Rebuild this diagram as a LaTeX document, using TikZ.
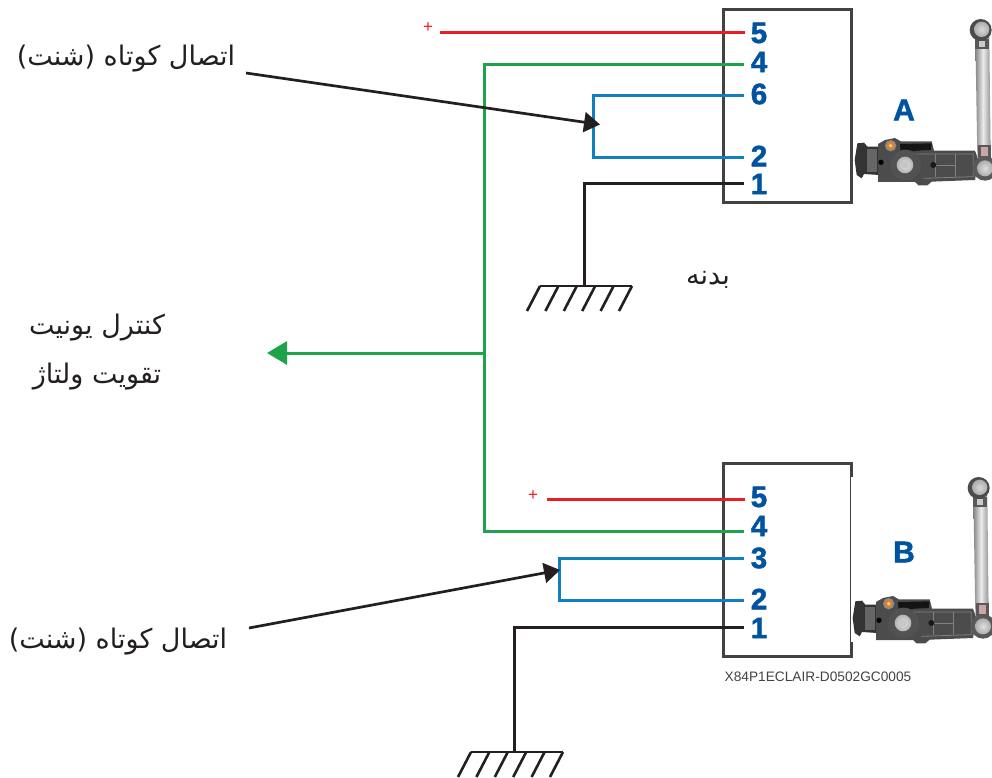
\documentclass[tikz,border=0pt]{standalone}
\usepackage{fontspec}
\setmainfont{Liberation Sans}
\newfontfamily\arabicfont[Script=Arabic]{DejaVu Sans}
\newfontfamily\numfont[FakeBold=1.6]{Liberation Sans Bold}
\TeXXeTstate=1
\usetikzlibrary{arrows.meta}
\definecolor{wred}{HTML}{ED1C24}
\definecolor{wgreen}{HTML}{1FA34A}
\definecolor{wblue}{HTML}{0F7FC1}
\definecolor{wblack}{HTML}{231F20}
\definecolor{numblue}{HTML}{00549F}
\tikzset{
  boxline/.style={draw=wblack!85,line width=3pt},
  wire/.style={line width=3pt,line cap=butt,line join=miter},
  redw/.style={wire,draw=wred},
  greenw/.style={wire,draw=wgreen},
  bluew/.style={wire,draw=wblue},
  blackw/.style={wire,draw=wblack},
  hatchline/.style={draw=wblack,line width=2.6pt},
  pinnum/.style={inner sep=0pt,text=numblue,font=\numfont\fontsize{29.5}{29.5}\selectfont},
  letter/.style={inner sep=0pt,text=numblue,font=\numfont\fontsize{30}{30}\selectfont},
  plus/.style={inner sep=0pt,text=wred,font=\fontsize{17}{17}\selectfont},
  farsi/.style={inner sep=0pt,text=wblack,font=\arabicfont\fontsize{27}{27}\selectfont},
  code/.style={inner sep=0pt,text=wblack!85,font=\fontsize{13.7}{15}\selectfont},
  callout/.style={draw=wblack,line width=2.7pt,-{Triangle[length=16pt,width=20pt]}},
  bigarrow/.style={wire,draw=wgreen,-{Triangle[length=20pt,width=23pt]}},
}
\newcommand{\sensorshape}{%
  % rod
  \shade[left color=gray!95,right color=gray!85,middle color=gray!15]
     (406,110) -- (448,110) -- (452,470) -- (412,470) -- cycle;
  \fill[gray!70!black] (406,118) rectangle (446,146);
  \fill[gray!40] (416,122) rectangle (436,142);
  \fill[gray!70!black] (414,435) rectangle (452,475);
  \fill[gray!40!pink] (424,442) rectangle (444,468);
  % top ball
  \fill[black!70] (422,90) circle (33);
  \shade[inner color=gray!30,outer color=gray!65] (425,88) circle (23);
  % connector
  \fill[black!80] (52,430) -- (72,428) -- (82,440) -- (118,440) -- (118,525) -- (72,522) -- (65,535) -- (50,525) -- (44,480) -- cycle;
  \fill[black!60] (82,448) rectangle (112,515);
  % body
  \fill[black!70] (114,432) -- (135,420) -- (165,414) -- (182,424) -- (275,424) -- (282,452) -- (405,452) -- (415,480) -- (405,540) -- (275,545) -- (262,556) -- (235,556) -- (225,546) -- (114,546) -- cycle;
  \fill[black!92] (180,432) -- (275,430) -- (272,450) -- (230,452) -- (182,462) -- cycle;
  \draw[black!50,line width=.8pt] (225,462) -- (400,462) -- (400,530) -- (250,535);
  \draw[black!50,line width=.8pt] (285,462) -- (285,530) (345,462) -- (345,530) (285,495) -- (345,495);
  % holes
  \fill[black] (123,487) circle (8);
  \fill[black!90] (280,495) circle (9);
  % orange screw
  \fill[black!45] (152,437) circle (17);
  \fill[orange!80!brown] (152,437) circle (11);
  \fill[orange!30] (152,437) circle (5);
  % pivot
  \fill[black!68] (197,495) circle (46);
  \shade[inner color=gray!20,outer color=gray!60] (195,495) circle (25);
  \fill[gray!45] (195,495) circle (11);
  % bottom ball
  \fill[black!65] (435,505) circle (37);
  \shade[inner color=gray!25,outer color=gray!65] (435,505) circle (24);
}
\begin{document}
\begin{tikzpicture}[x=1pt,y=-1pt]
\useasboundingbox (0,0) rectangle (992,778);
\begin{scope}
\clip (0,0) rectangle (992,778);

% sensor images
\begin{scope}[shift={(840,0)},x=1/3*1pt,y=-1/3*1pt]
  \sensorshape
\end{scope}
\begin{scope}[shift={(838,458)},x=1/3*1pt,y=-1/3*1pt]
  \sensorshape
\end{scope}

% boxes
\draw[boxline] (723,10) rectangle (851,202);
\draw[boxline] (851,477) -- (851,463) -- (723,463) -- (723,656) -- (851,656) -- (851,642);
\draw[draw=wblack!85,line width=1.6pt] (850.5,477) -- (850.5,642);

% wire end points, top unit
\coordinate (ra0) at (440,33);   \coordinate (ra1) at (745,33);
\coordinate (ga1) at (744,65);   \coordinate (ga2) at (484,65);
\coordinate (ba1) at (744,96);   \coordinate (ba2) at (593,96);
\coordinate (ba3) at (593,158);  \coordinate (ba4) at (744,158);
\coordinate (ka1) at (744,183);  \coordinate (ka2) at (584,183);
\coordinate (gnda) at (584,286);
% wire end points, bottom unit
\coordinate (rb0) at (547,499);  \coordinate (rb1) at (745,499);
\coordinate (gb1) at (744,531);  \coordinate (gb2) at (484,531);
\coordinate (bb1) at (744,558);  \coordinate (bb2) at (559,558);
\coordinate (bb3) at (559,600);  \coordinate (bb4) at (744,600);
\coordinate (kb1) at (744,627);  \coordinate (kb2) at (514,627);
\coordinate (gndb) at (514,752);
% branch and callouts
\coordinate (branch) at (484,353);
\coordinate (tipg) at (267,353);
\coordinate (calla0) at (246,73);  \coordinate (calla1) at (600,124.5);
\coordinate (callb0) at (249,628); \coordinate (callb1) at (560,570);

% wires
\draw[redw] (ra0) -- (ra1);
\draw[greenw] (ga1) -- (ga2) -- (gb2) -- (gb1);
\draw[bluew] (ba1) -- (ba2) -- (ba3) -- (ba4);
\draw[blackw] (ka1) -- (ka2) -- (gnda);
\draw[redw] (rb0) -- (rb1);
\draw[bluew] (bb1) -- (bb2) -- (bb3) -- (bb4);
\draw[blackw] (kb1) -- (kb2) -- (gndb);
\draw[bigarrow] (branch) -- (tipg);

% callout arrows
\draw[callout] (calla0) -- (calla1);
\draw[callout] (callb0) -- (callb1);

% grounds
\foreach \gx/\gy in {540/286,471/752}{
  \draw[hatchline] (\gx,\gy) -- ++(92,0);
  \foreach \k in {0,...,5}{
    \draw[hatchline] (\gx+\k*18.4,\gy) -- ++(-13,25);
  }
}

% pin numbers
\node[pinnum] (a5) at (759,33) {5};
\node[pinnum] (a4) at (759,62) {4};
\node[pinnum] (a6) at (759,94) {6};
\node[pinnum] (a2) at (759,156) {2};
\node[pinnum] (a1) at (759,184) {1};
\node[pinnum] (b5) at (759,497) {5};
\node[pinnum] (b4) at (759,526) {4};
\node[pinnum] (b3) at (759,558) {3};
\node[pinnum] (b2) at (759,599) {2};
\node[pinnum] (b1) at (759,628) {1};

% letters
\node[letter] (la) at (904,110) {A};
\node[letter] (lb) at (904,552) {B};

% plus signs
\node[plus] (pa) at (428,28) {+};
\node[plus] (pb) at (533,496) {+};

% farsi labels
\node[farsi] (t1) at (126,59) {\beginR اتصال کوتاه (شنت)\endR};
\node[farsi] (t2) at (118,642) {\beginR اتصال کوتاه (شنت)\endR};
\node[farsi] (t3) at (97,328) {\beginR کنترل یونیت\endR};
\node[farsi] (t4) at (97,377) {\beginR تقویت ولتاژ\endR};
\node[farsi] (t5) at (708,280) {\beginR بدنه\endR};

% code
\node[code] (c1) at (818,677) {X84P1ECLAIR-D0502GC0005};
\end{scope}
\end{tikzpicture}
\end{document}
